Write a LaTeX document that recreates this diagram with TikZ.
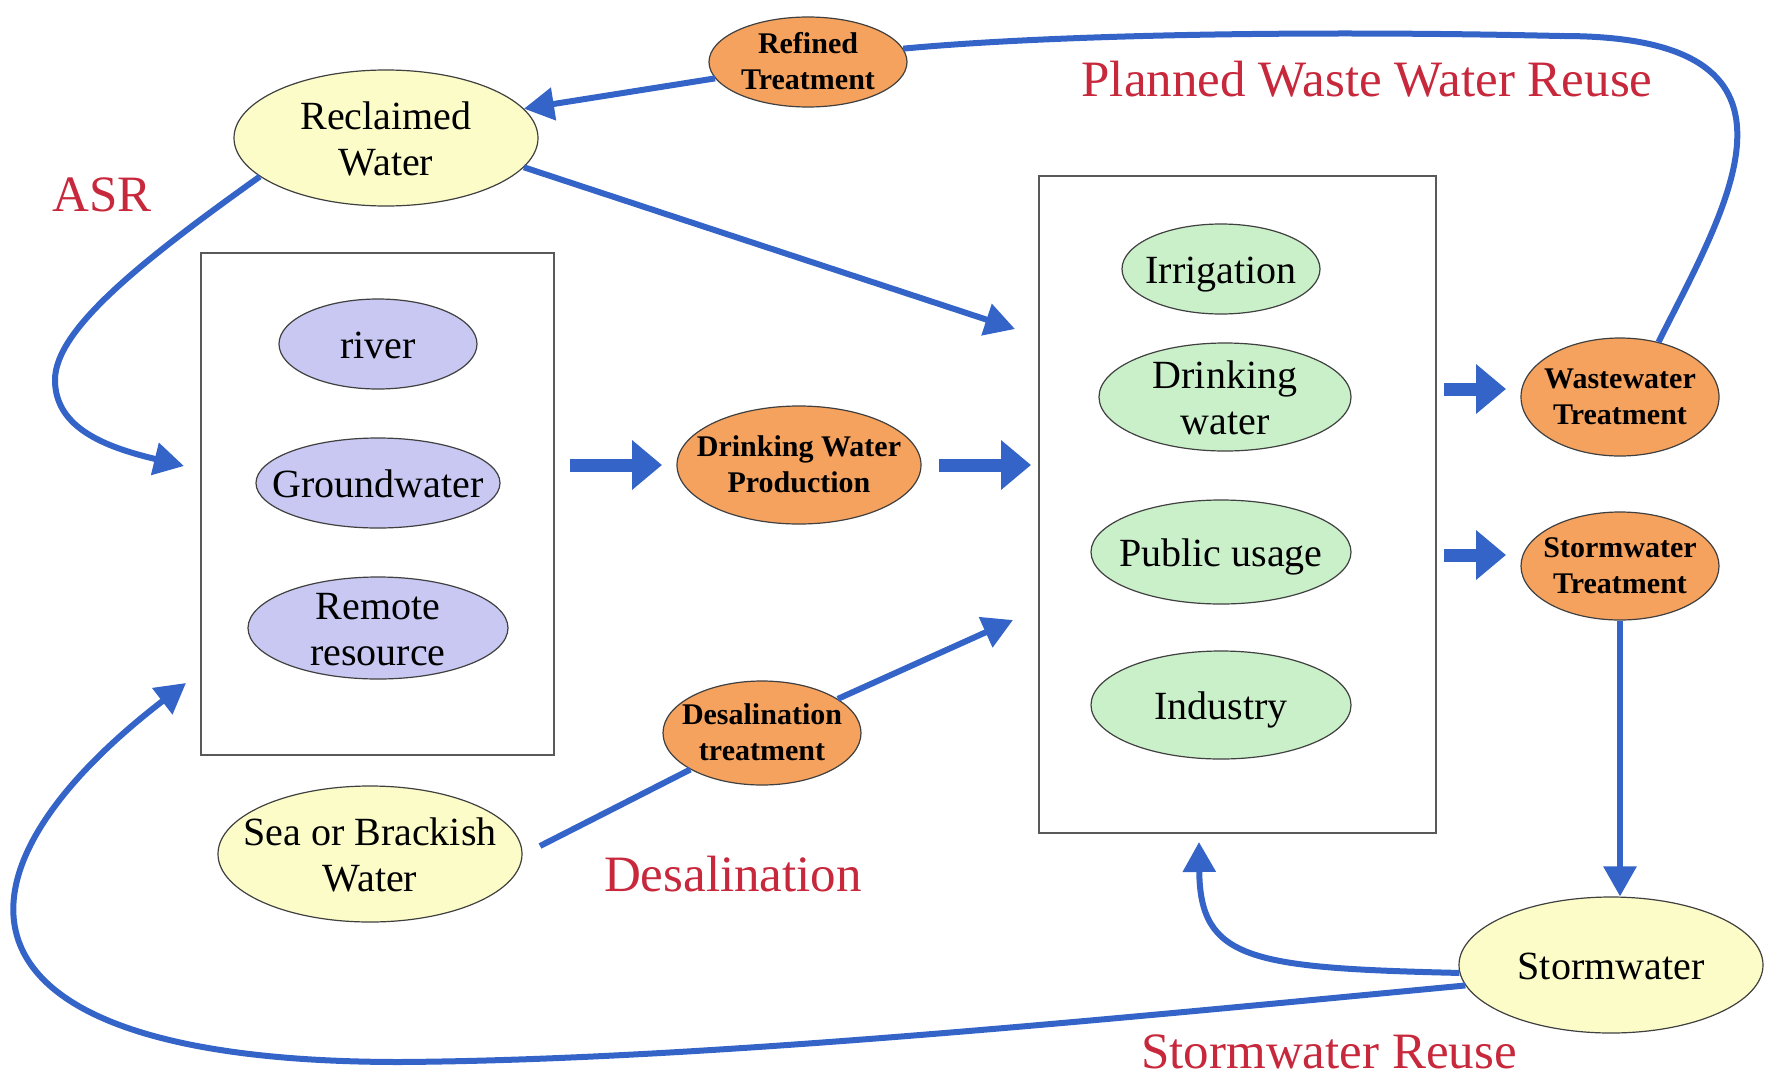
\documentclass[tikz,border=0pt]{standalone}
\usepackage{fontspec}
\setmainfont{Liberation Serif}
\usetikzlibrary{shapes.geometric,arrows.meta}
\definecolor{ablue}{HTML}{3464C8}
\definecolor{cyellow}{HTML}{FCFCC8}
\definecolor{cpurple}{HTML}{C8C8F2}
\definecolor{cgreen}{HTML}{CAF0CA}
\definecolor{corange}{HTML}{F5A25F}
\definecolor{cred}{HTML}{C8283C}
\newcommand{\tx}[1]{\makebox[0pt]{\smash{\raisebox{-0.28em}{\begin{tabular}{@{}c@{}}#1\end{tabular}}}}}
\begin{document}
\begin{tikzpicture}[x=1pt,y=-1pt,
  elli/.style={ellipse,draw=black!75,line width=1.2pt,inner sep=0pt,
    font=\fontsize{40}{46}\selectfont},
  ylw/.style={elli,fill=cyellow},
  prp/.style={elli,fill=cpurple},
  grn/.style={elli,fill=cgreen},
  orn/.style={ellipse,draw=black!75,line width=1.2pt,fill=corange,inner sep=0pt,
    font=\fontsize{30}{36}\selectfont\bfseries},
  frame/.style={draw=black!65,line width=1.5pt,inner sep=0pt},
  flow/.style={draw=ablue,line width=6pt,-{Triangle[length=30pt,width=32pt]}},
  plain/.style={draw=ablue,line width=6pt},
  block/.style={draw=ablue,line width=13pt,-{Triangle[length=30pt,width=48pt]}},
  lbl/.style={text=cred,font=\fontsize{51}{56}\selectfont,inner sep=0pt}
]
\useasboundingbox[fill=white] (0,0) rectangle (1769,1082);

% boxes
\node[frame,minimum width=353pt,minimum height=502pt] (lbox) at (377.5,504) {};
\node[frame,minimum width=397pt,minimum height=657pt] (rbox) at (1237.5,504.5) {};

% ellipses
\node[orn,minimum width=198pt,minimum height=90pt] (ref) at (808,62) {\tx{Refined\\Treatment}};
\node[ylw,minimum width=304pt,minimum height=136pt] (recl) at (386,138) {\tx{Reclaimed\\Water}};
\node[prp,minimum width=198pt,minimum height=90pt] (river) at (378,344) {\tx{river}};
\node[prp,minimum width=244pt,minimum height=90pt] (ground) at (378,483) {\tx{Groundwater}};
\node[prp,minimum width=260pt,minimum height=102pt] (remote) at (378,628) {\tx{Remote\\resource}};
\node[orn,minimum width=244pt,minimum height=118pt] (dwp) at (799,465) {\tx{Drinking Water\\Production}};
\node[grn,minimum width=198pt,minimum height=90pt] (irr) at (1221,269) {\tx{Irrigation}};
\node[grn,minimum width=252pt,minimum height=108pt] (drink) at (1225,397) {\tx{Drinking\\water}};
\node[grn,minimum width=260pt,minimum height=104pt] (pub) at (1221,552) {\tx{Public usage}};
\node[grn,minimum width=260pt,minimum height=108pt] (ind) at (1221,705) {\tx{Industry}};
\node[orn,minimum width=198pt,minimum height=118pt] (wwt) at (1620,397) {\tx{Wastewater\\Treatment}};
\node[orn,minimum width=198pt,minimum height=108pt] (swt) at (1620,566) {\tx{Stormwater\\Treatment}};
\node[orn,minimum width=198pt,minimum height=104pt] (desal) at (762,733) {\tx{Desalination\\treatment}};
\node[ylw,minimum width=304pt,minimum height=136pt] (sea) at (370,854) {\tx{Sea or Brackish\\Water}};
\node[ylw,minimum width=304pt,minimum height=136pt] (sw) at (1611,965) {\tx{Stormwater}};

% labels
\node[lbl] (asr) at (102,195) {ASR};
\node[lbl] (pwr) at (1367,79) {Planned Waste Water Reuse};
\node[lbl] (dsl) at (733,874) {Desalination};
\node[lbl] (swr) at (1329,1052) {Stormwater Reuse};

% free ends
\coordinate (rbin1) at (1015,329);
\coordinate (asrmid) at (55,380);
\coordinate (asrend) at (184,466);
\coordinate (seastart) at (540,846);
\coordinate (dsend) at (1013,620);
\coordinate (rbin2) at (1199,842);
\coordinate (swbot) at (400,1062);
\coordinate (lbin) at (186,683);
\coordinate (wtop) at (1560,36);
\coordinate (b1s) at (570,465);
\coordinate (b1e) at (662,465);
\coordinate (b2s) at (939,465);
\coordinate (b2e) at (1031,465);
\coordinate (b3s) at (1444,389);
\coordinate (b3e) at (1506,389);
\coordinate (b4s) at (1444,555);
\coordinate (b4e) at (1506,555);

% connectors
\draw[flow] (ref.190) -- (recl.12);
\draw[flow] (recl.-12) -- (rbin1);
\draw[flow] (recl.197) .. controls (140,262) and (55,330) .. (asrmid)
  .. controls (55,430) and (110,448) .. (asrend);
\draw[block] (b1s) -- (b1e);
\draw[block] (b2s) -- (b2e);
\draw[block] (b3s) -- (b3e);
\draw[block] (b4s) -- (b4e);
\draw[plain] (seastart) -- (desal);
\draw[flow] (desal) -- (dsend);
\draw[plain] (wwt.55) .. controls (1730,200) and (1830,35) .. (wtop)
  .. controls (1300,30) and (1050,35) .. (ref.8);
\draw[flow] (swt.south) -- (swt.south |- sw.north);
\draw[flow] (sw.183) .. controls (1250,968) and (1200,960) .. (rbin2);
\draw[flow] (sw.188) .. controls (1100,1020) and (700,1060) .. (swbot)
  .. controls (-60,1062) and (-70,880) .. (lbin);
\end{tikzpicture}
\end{document}
